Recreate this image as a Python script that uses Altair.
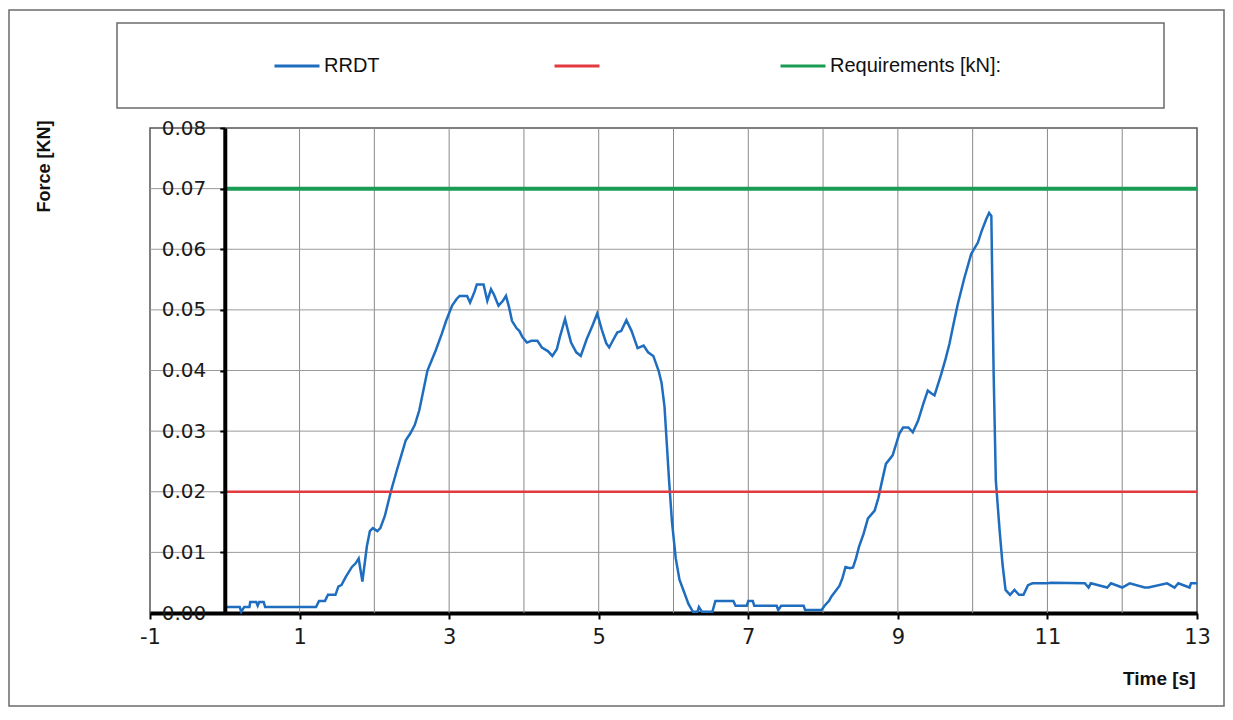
import altair as alt
import pandas as pd

# ---------------- data ----------------
rrdt_t = [0.00, 0.20, 0.22, 0.26, 0.33, 0.34, 0.42, 0.44, 0.46, 0.52, 0.54, 1.22, 1.26, 1.34, 1.38, 1.48,
          1.52, 1.56, 1.62, 1.70, 1.75, 1.79, 1.84, 1.90, 1.94, 1.98, 2.04, 2.08, 2.14, 2.22, 2.30, 2.36,
          2.42, 2.48, 2.54, 2.60, 2.66, 2.71, 2.76, 2.82, 2.90, 2.96, 3.04, 3.10, 3.14, 3.24, 3.28, 3.34,
          3.37, 3.46, 3.51, 3.56, 3.60, 3.66, 3.72, 3.76, 3.80, 3.84, 3.90, 3.94, 3.98, 4.04, 4.10, 4.18,
          4.24, 4.32, 4.38, 4.44, 4.48, 4.55, 4.59, 4.63, 4.70, 4.76, 4.84, 4.92, 4.98, 5.04, 5.10, 5.14,
          5.20, 5.25, 5.30, 5.37, 5.44, 5.52, 5.60, 5.66, 5.73, 5.80, 5.84, 5.88, 5.91, 5.94, 5.98, 6.03,
          6.08, 6.14, 6.20, 6.26, 6.32, 6.34, 6.38, 6.52, 6.56, 6.80, 6.83, 6.98, 7.00, 7.06, 7.08, 7.38,
          7.40, 7.44, 7.74, 7.76, 7.98, 8.02, 8.08, 8.11, 8.16, 8.22, 8.26, 8.30, 8.36, 8.40, 8.44, 8.48,
          8.54, 8.60, 8.69, 8.74, 8.78, 8.84, 8.93, 8.98, 9.02, 9.07, 9.14, 9.20, 9.27, 9.34, 9.40, 9.45,
          9.49, 9.58, 9.64, 9.69, 9.75, 9.80, 9.89, 9.98, 10.07, 10.12, 10.18, 10.22, 10.25, 10.28, 10.31,
          10.36, 10.40, 10.44, 10.50, 10.56, 10.62, 10.68, 10.74, 10.80, 11.00, 11.05, 11.50, 11.55, 11.58,
          11.80, 11.85, 12.00, 12.10, 12.30, 12.35, 12.60, 12.70, 12.75, 12.90, 12.92, 13.00]
rrdt_f = [0.0010, 0.0010, 0.0002, 0.0010, 0.0010, 0.0018, 0.0018, 0.0012, 0.0018, 0.0018, 0.0010, 0.0010,
          0.0020, 0.0020, 0.0030, 0.0030, 0.0044, 0.0046, 0.0060, 0.0076, 0.0082, 0.0090, 0.0052, 0.0110,
          0.0135, 0.0140, 0.0135, 0.0140, 0.0160, 0.0200, 0.0235, 0.0260, 0.0285, 0.0296, 0.0310, 0.0334,
          0.0370, 0.0400, 0.0415, 0.0433, 0.0460, 0.0482, 0.0507, 0.0518, 0.0523, 0.0523, 0.0512, 0.0530,
          0.0542, 0.0542, 0.0515, 0.0534, 0.0525, 0.0507, 0.0515, 0.0523, 0.0505, 0.0482, 0.0470, 0.0465,
          0.0455, 0.0446, 0.0449, 0.0449, 0.0438, 0.0432, 0.0424, 0.0435, 0.0455, 0.0485, 0.0465, 0.0446,
          0.0430, 0.0424, 0.0452, 0.0475, 0.0494, 0.0468, 0.0445, 0.0438, 0.0452, 0.0463, 0.0465, 0.0483,
          0.0465, 0.0437, 0.0441, 0.0430, 0.0424, 0.0400, 0.0380, 0.0340, 0.0280, 0.0220, 0.0150, 0.0090,
          0.0055, 0.0035, 0.0015, 0.0002, 0.0002, 0.0010, 0.0002, 0.0002, 0.0020, 0.0020, 0.0012, 0.0012,
          0.0020, 0.0020, 0.0012, 0.0012, 0.0005, 0.0012, 0.0012, 0.0005, 0.0005, 0.0012, 0.0020, 0.0027,
          0.0035, 0.0045, 0.0058, 0.0076, 0.0074, 0.0075, 0.0090, 0.0109, 0.0130, 0.0156, 0.0169, 0.0190,
          0.0213, 0.0246, 0.0260, 0.0280, 0.0296, 0.0306, 0.0306, 0.0298, 0.0317, 0.0345, 0.0367, 0.0362,
          0.0359, 0.0394, 0.0420, 0.0444, 0.0480, 0.0509, 0.0553, 0.0592, 0.0611, 0.0630, 0.0649, 0.0660,
          0.0655, 0.0400, 0.0219, 0.0137, 0.0080, 0.0038, 0.0030, 0.0038, 0.0030, 0.0030, 0.0046, 0.0049,
          0.0049, 0.0050, 0.0049, 0.0042, 0.0049, 0.0042, 0.0049, 0.0042, 0.0049, 0.0042, 0.0042, 0.0049,
          0.0042, 0.0049, 0.0042, 0.0049, 0.0049]

limit_t = [0, 13]
limit_f = [0.02, 0.02]
req_t = [0, 13]
req_f = [0.07, 0.07]

series_names = ["RRDT", "Limit", "Requirements [kN]:"]
series_colors = ["#1f6dbf", "#e23a3f", "#1a9c55"]

x_grid = [1, 2, 3, 4, 5, 6, 7, 8, 9, 10, 11, 12]
y_grid = [0.01, 0.02, 0.03, 0.04, 0.05, 0.06, 0.07]
x_label_values = [-1, 1, 3, 5, 7, 9, 11, 13]
y_label_values = [0.0, 0.01, 0.02, 0.03, 0.04, 0.05, 0.06, 0.07, 0.08]

# ---------------- tables ----------------
df = pd.concat([
    pd.DataFrame({"t": rrdt_t, "f": rrdt_f, "series": series_names[0]}),
    pd.DataFrame({"t": limit_t, "f": limit_f, "series": series_names[1]}),
    pd.DataFrame({"t": req_t, "f": req_f, "series": series_names[2]}),
], ignore_index=True)

xg = pd.DataFrame({"g": x_grid})
yg = pd.DataFrame({"g": y_grid})

W, H = 1047, 485
x_scale = alt.Scale(domain=[-1, 13], nice=False, zero=False)
y_scale = alt.Scale(domain=[0, 0.08], nice=False)

x_axis = alt.Axis(
    values=x_label_values, grid=False, labelFlush=False,
    labelExpr="toString(datum.value)",
    domainColor="black", domainWidth=4, tickColor="black", tickWidth=2, tickSize=6,
    labelFont="DejaVu Sans", labelFontSize=21, labelColor="#1a1a1a", labelPadding=7,
    title="Time [s]", titleFont="Liberation Sans", titleFontSize=19, titleFontWeight="bold",
    titleColor="#111", titleX=1045, titleY=71, titleAlign="right", titleBaseline="alphabetic",
)
y_axis = alt.Axis(
    values=y_label_values, format=".2f", grid=False, offset=-W / 14,
    domainColor="black", domainWidth=4, tickColor="black", tickWidth=2, tickSize=5,
    labelFont="DejaVu Sans", labelFontSize=20, labelColor="#1a1a1a", labelPadding=14,
    title="Force [KN]", titleFont="Liberation Sans", titleFontSize=18, titleFontWeight="bold",
    titleColor="#111", titleX=-180, titleY=38, titleAngle=270, titleAlign="center",
    titleBaseline="middle", zindex=1,
)

color = alt.Color(
    "series:N",
    scale=alt.Scale(domain=series_names, range=series_colors),
    legend=alt.Legend(
        orient="none", legendX=123, legendY=-86, direction="horizontal", title=None,
        symbolType="stroke", symbolSize=2025, symbolStrokeWidth=3,
        labelFont="Liberation Sans", labelFontSize=20, labelColor="#111", labelLimit=400,
        columnPadding=168, padding=0, labelOffset=3,
        labelExpr="datum.label == 'Limit' ? '' : datum.label",
    ),
)

one = alt.Data(values=[{"k": 1}])

frame = alt.Chart(one).mark_rect(fill="transparent", stroke="#6b6b6b", strokeWidth=1.5).encode(
    x=alt.value(-141), x2=alt.value(1074), y=alt.value(-118), y2=alt.value(578)
)
legend_box = alt.Chart(one).mark_rect(fill="transparent", stroke="#6b6b6b", strokeWidth=1.5).encode(
    x=alt.value(-33), x2=alt.value(1014), y=alt.value(-105), y2=alt.value(-20)
)

vgrid = alt.Chart(xg).mark_rule(color="#8a8a8a", strokeWidth=1).encode(
    x=alt.X("g:Q", scale=x_scale, axis=x_axis)
)
hgrid = alt.Chart(yg).mark_rule(color="#9a9a9a", strokeWidth=1).encode(
    y=alt.Y("g:Q", scale=y_scale, axis=y_axis)
)

base = alt.Chart(df).encode(
    x=alt.X("t:Q", scale=x_scale, axis=x_axis),
    y=alt.Y("f:Q", scale=y_scale, axis=y_axis),
    color=color,
)
blue = base.transform_filter(alt.datum.series == series_names[0]).mark_line(strokeWidth=2.5)
red = base.transform_filter(alt.datum.series == series_names[1]).mark_line(strokeWidth=2.5)
green = base.transform_filter(alt.datum.series == series_names[2]).mark_line(strokeWidth=4)

chart = alt.layer(frame, legend_box, vgrid, hgrid, blue, red, green).properties(
    width=W, height=H,
    padding={"left": 142, "top": 120, "right": 28, "bottom": 95},
    autosize=alt.AutoSizeParams(type="none"),
    background="white",
).configure_view(stroke="#555", strokeWidth=1.5)

chart.save("out.html", embed_options={"renderer": "svg", "actions": False})
